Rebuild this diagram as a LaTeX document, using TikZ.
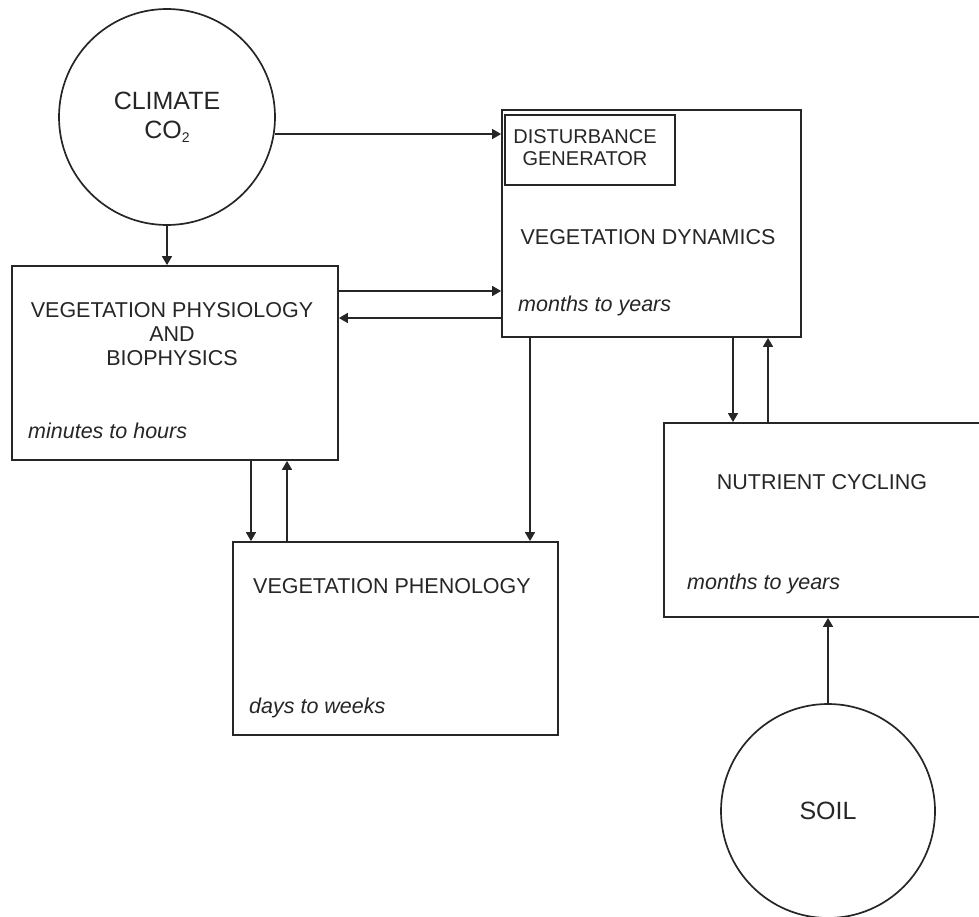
\documentclass[tikz,border=0pt]{standalone}
\usepackage{fontspec}
\setmainfont{Liberation Sans}
\usetikzlibrary{arrows.meta}
\definecolor{ink}{HTML}{262626}
\tikzset{
  boxn/.style={draw=ink, line width=1.8pt, rectangle, inner sep=0pt},
  circn/.style={draw=ink, line width=1.7pt, circle, inner sep=0pt, text=ink, align=center, font=\fontsize{25}{29}\selectfont},
  capl/.style={inner sep=0pt, font=\fontsize{21.5}{24}\selectfont, text=ink, align=center},
  smalll/.style={inner sep=0pt, font=\fontsize{20}{22}\selectfont, text=ink, align=center},
  timel/.style={inner sep=0pt, anchor=west, font=\fontsize{21.5}{24}\selectfont\itshape, text=ink, text height=0.72em, text depth=0pt},
  arr/.style={draw=ink, line width=1.6pt, -{Triangle[length=9pt,width=10pt]}},
}
\begin{document}
\begin{tikzpicture}[x=1pt,y=-1pt]
\useasboundingbox (0,0) rectangle (979,917);
\clip (0,0) rectangle (979,917);
\fill[white] (0,0) rectangle (979,917);

% circles
\node[circn, minimum size=216pt] (climate) at (167,117) {CLIMATE\\CO{\fontsize{14}{14}\selectfont\raisebox{-4pt}{2}}};
\node[circn, minimum size=214pt] (soil) at (828,811) {SOIL};

% boxes
\node[boxn, minimum width=326pt, minimum height=194pt] (phys) at (175,363) {};
\node[boxn, minimum width=299pt, minimum height=227pt] (dyn) at (651.5,223.5) {};
\node[boxn, minimum width=170pt, minimum height=70pt] (dist) at (590,150) {};
\node[boxn, minimum width=325pt, minimum height=193pt] (phen) at (395.5,638.5) {};
\node[boxn, minimum width=325pt, minimum height=194pt] (nut) at (826.5,520) {};

% labels
\node[capl] (physlbl) at (172,334.5) {VEGETATION PHYSIOLOGY\\AND\\BIOPHYSICS};
\node[smalll] (distlbl) at (585,148) {DISTURBANCE\\GENERATOR};
\node[capl] (dynlbl) at (648,237) {VEGETATION DYNAMICS};
\node[capl] (phenlbl) at (392,586) {VEGETATION PHENOLOGY};
\node[capl] (nutlbl) at (822,482) {NUTRIENT CYCLING};

\node[timel] (phystime) at (28,435) {minutes to hours};
\node[timel] (dyntime) at (518,308) {months to years};
\node[timel] (phentime) at (249,710) {days to weeks};
\node[timel] (nuttime) at (687,586) {months to years};

% connectors
\draw[arr] (climate.-9.6) -- (climate.-9.6 -| dyn.west);
\draw[arr] (climate.south) -- (climate.south |- phys.north);
\draw[arr] (phys.east |- 0,291) -- (dyn.west |- 0,291);
\draw[arr] (dyn.west |- 0,318) -- (phys.east |- 0,318);
\draw[arr] (dyn.south -| 530,0) -- (phen.north -| 530,0);
\draw[arr] (phys.south -| 251,0) -- (phen.north -| 251,0);
\draw[arr] (phen.north -| 287,0) -- (phys.south -| 287,0);
\draw[arr] (dyn.south -| 733,0) -- (nut.north -| 733,0);
\draw[arr] (nut.north -| 768,0) -- (dyn.south -| 768,0);
\draw[arr] (soil.north) -- (soil.north |- nut.south);
\end{tikzpicture}
\end{document}
